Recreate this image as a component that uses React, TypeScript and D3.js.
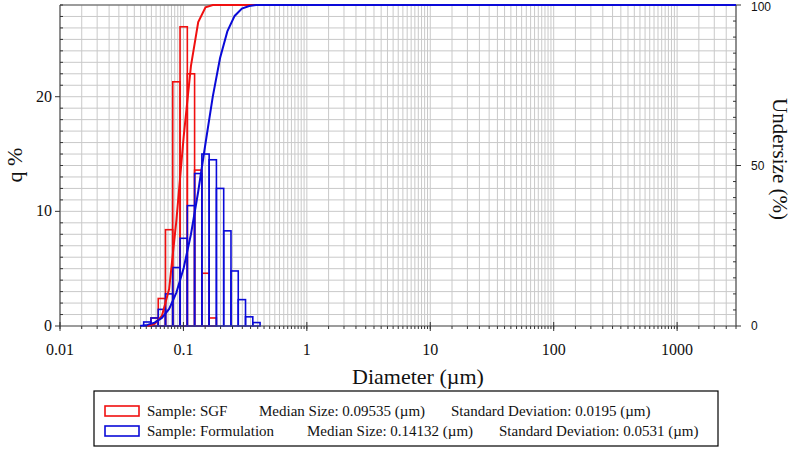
import React from 'react';
import * as d3 from 'd3';

// Channel diameters (µm)
const sizes = [0.0445, 0.0510, 0.0584, 0.0669, 0.0766, 0.0877, 0.1005, 0.1151, 0.1318, 0.1510, 0.1729, 0.1981, 0.2269, 0.2599, 0.2976, 0.3409, 0.3905, 0.4472];
// Frequency q% per channel
const sgfQ = [0, 0, 0.7, 2.4, 8.4, 21.3, 26.1, 22.0, 13.6, 4.6, 0.7, 0, 0, 0, 0, 0, 0, 0];
const formulationQ = [0, 0.35, 0.7, 1.45, 2.8, 5.1, 7.65, 10.5, 13.3, 15.0, 14.5, 12.0, 8.3, 4.8, 2.3, 0.8, 0.3, 0];

const xDomain = [0.01, 3000];
const xLabelValues = [0.01, 0.1, 1, 10, 100, 1000];
const xLabelTexts = ['0.01', '0.1', '1', '10', '100', '1000'];
const gridMultipliers = [1, 1.5, 2, 2.5, 3, 3.5, 4, 4.5, 5, 5.5, 6, 6.5, 7, 7.5, 8, 8.5, 9, 9.5];
const leftMax = 28;
const leftLabels = [0, 10, 20];
const rightLabels = [0, 50, 100];

const seriesNames = ['Sample: SGF', 'Sample: Formulation'];
const medianTexts = ['Median Size: 0.09535 (µm)', 'Median Size: 0.14132 (µm)'];
const stdTexts = ['Standard Deviation: 0.0195 (µm)', 'Standard Deviation: 0.0531 (µm)'];

const RED = '#f01010';
const BLUE = '#0a0ad8';
const SERIF = '"Liberation Serif", "Times New Roman", serif';
const SANS = '"Liberation Sans", Arial, sans-serif';

export default function App() {
  const L = 60, R = 736, T = 5, B = 326;
  const x = d3.scaleLog().domain(xDomain).range([L, R]);
  const yL = d3.scaleLinear().domain([0, leftMax]).range([B, T]);
  const yR = d3.scaleLinear().domain([0, 100]).range([B, T]);

  const gridX: number[] = [];
  xLabelValues.forEach((dec) => {
    gridMultipliers.forEach((m) => {
      const v = m * dec;
      if (v >= xDomain[0] && v <= xDomain[1]) gridX.push(v);
    });
  });
  const gridY = d3.range(0, leftMax + 1, 1);
  const rightMinor = d3.range(0, 101, 5);

  const edges = (i: number) => {
    const d = sizes[i];
    const prev = i > 0 ? sizes[i - 1] : (d * d) / sizes[i + 1];
    const next = i < sizes.length - 1 ? sizes[i + 1] : (d * d) / sizes[i - 1];
    return [Math.sqrt(prev * d), Math.sqrt(d * next)];
  };

  const cumulative = (q: number[]) => {
    const total = d3.sum(q);
    const first = q.findIndex((v) => v > 0);
    let run = 0;
    const pts: [number, number][] = [];
    q.forEach((v, i) => {
      run += v;
      if (i >= first - 1) pts.push([sizes[i], (run / total) * 100]);
    });
    pts.push([xDomain[1], 100]);
    return pts;
  };

  const line = d3
    .line<[number, number]>()
    .x((d) => x(d[0]))
    .y((d) => yR(d[1]));

  const bars = (q: number[], color: string) =>
    q.map((v, i) => {
      if (v <= 0) return null;
      const [a, b] = edges(i);
      return (
        <rect
          key={i}
          x={x(a)}
          y={yL(v)}
          width={x(b) - x(a)}
          height={B - yL(v)}
          fill="none"
          stroke={color}
          strokeWidth={1.6}
        />
      );
    });

  return (
    <svg width={794} height={450} style={{ position: 'absolute', left: 0, top: 0, background: '#fff' }}>
      {/* grid */}
      <g stroke="#c9c9c9" strokeWidth={1}>
        {gridX.map((v, i) => (
          <line key={'gx' + i} x1={x(v)} x2={x(v)} y1={T} y2={B} />
        ))}
        {gridY.map((v) => (
          <line key={'gy' + v} x1={L} x2={R} y1={yL(v)} y2={yL(v)} />
        ))}
      </g>

      {/* bars */}
      <g>{bars(sgfQ, RED)}</g>
      <g>{bars(formulationQ, BLUE)}</g>

      {/* frame / axes */}
      <g stroke="#555" strokeWidth={1.2}>
        <line x1={L} x2={R} y1={T} y2={T} />
        <line x1={L} x2={R} y1={B} y2={B} />
        <line x1={L} x2={L} y1={T} y2={B} />
        <line x1={R} x2={R} y1={T} y2={B} />
      </g>

      {/* cumulative curves */}
      <path d={line(cumulative(sgfQ)) || ''} fill="none" stroke={RED} strokeWidth={2} />
      <path d={line(cumulative(formulationQ)) || ''} fill="none" stroke={BLUE} strokeWidth={2} />

      <g stroke="#333" strokeWidth={1}>
        {gridY.map((v) =>
          leftLabels.includes(v) ? (
            <line key={'lt' + v} x1={L - 5} x2={L} y1={yL(v)} y2={yL(v)} />
          ) : (
            <line key={'lt' + v} x1={L} x2={L + 3} y1={yL(v)} y2={yL(v)} />
          )
        )}
        {rightMinor.map((v) =>
          rightLabels.includes(v) ? (
            <line key={'rt' + v} x1={R} x2={R + 5} y1={yR(v)} y2={yR(v)} />
          ) : (
            <line key={'rt' + v} x1={R - 3} x2={R} y1={yR(v)} y2={yR(v)} />
          )
        )}
        {gridX.map((v, i) => (
          <line key={'bt' + i} x1={x(v)} x2={x(v)} y1={B} y2={B + 3} />
        ))}
        {xLabelValues.map((v) => (
          <line key={'bm' + v} x1={x(v)} x2={x(v)} y1={B - 4} y2={B + 5} />
        ))}
      </g>

      {/* tick labels */}
      <g fontFamily={SERIF} fontSize={16} fill="#111">
        {xLabelValues.map((v, i) => (
          <text key={'xl' + v} x={x(v)} y={355} textAnchor="middle">
            {xLabelTexts[i]}
          </text>
        ))}
        {leftLabels.map((v) => (
          <text key={'yl' + v} x={52} y={yL(v) + 5} textAnchor="end">
            {v}
          </text>
        ))}
      </g>
      <g fontFamily={SANS} fontSize={12} fill="#111">
        {rightLabels.map((v) => (
          <text key={'yr' + v} x={751} y={Math.max(yR(v) + 4, 11)} textAnchor="start">
            {v}
          </text>
        ))}
      </g>

      {/* axis titles */}
      <text x={418} y={384} textAnchor="middle" fontFamily={SERIF} fontSize={22} fill="#111">
        Diameter (µm)
      </text>
      <text
        transform="translate(22,165) rotate(-90)"
        textAnchor="middle"
        fontFamily={SERIF}
        fontSize={22}
        fill="#111"
      >
        q %
      </text>
      <text
        transform="translate(773,159) rotate(90)"
        textAnchor="middle"
        fontFamily={SERIF}
        fontSize={21}
        fill="#111"
      >
        Undersize (%)
      </text>

      {/* legend */}
      <rect x={94} y={391} width={624} height={55} fill="none" stroke="#000" strokeWidth={1.2} />
      {[RED, BLUE].map((c, i) => {
        const cy = 411 + i * 20;
        return (
          <g key={'lg' + i} fontFamily={SERIF} fontSize={15} fill="#111">
            <rect x={105} y={cy - 5} width={34} height={10} fill="none" stroke={c} strokeWidth={1.6} />
            <text x={147} y={cy + 5}>{seriesNames[i]}</text>
            <text x={i === 0 ? 259 : 307} y={cy + 5}>{medianTexts[i]}</text>
            <text x={i === 0 ? 451 : 499} y={cy + 5}>{stdTexts[i]}</text>
          </g>
        );
      })}
    </svg>
  );
}
